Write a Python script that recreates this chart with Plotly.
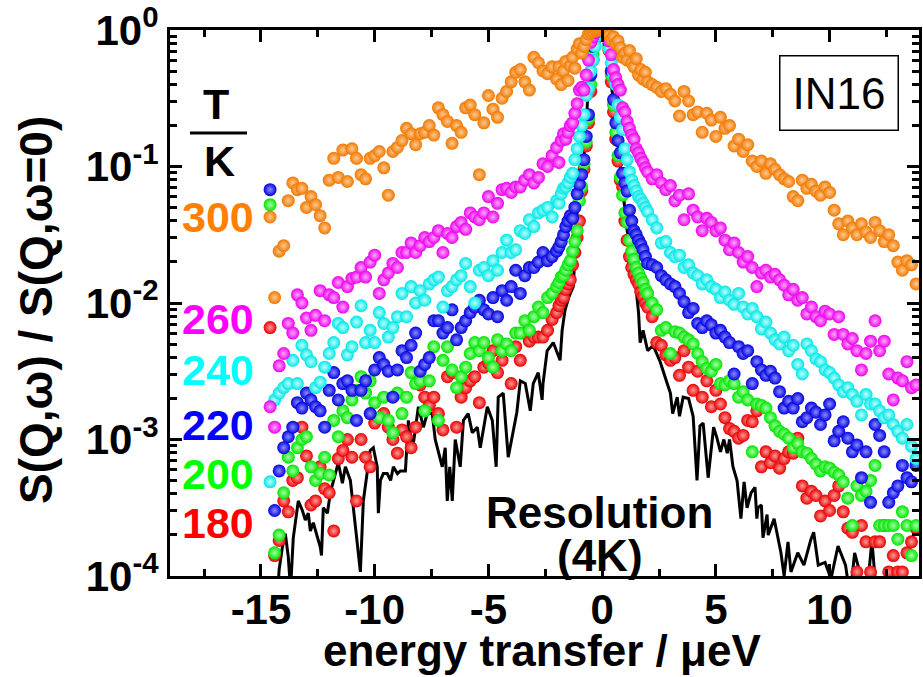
import plotly.graph_objects as go

# Energy transfer grid (µeV): 0.2 steps in the wings, 0.1 steps around the elastic line
energy = [
    -14.6, -14.4, -14.2, -14.0, -13.8, -13.6, -13.4, -13.2, -13.0, -12.8,
    -12.6, -12.4, -12.2, -12.0, -11.8, -11.6, -11.4, -11.2, -11.0, -10.8,
    -10.6, -10.4, -10.2, -10.0, -9.8, -9.6, -9.4, -9.2, -9.0, -8.8,
    -8.6, -8.4, -8.2, -8.0, -7.8, -7.6, -7.4, -7.2, -7.0, -6.8,
    -6.6, -6.4, -6.2, -6.0, -5.8, -5.6, -5.4, -5.2, -5.0, -4.8,
    -4.6, -4.4, -4.2, -4.0, -3.8, -3.6, -3.4, -3.2, -3.0, -2.8,
    -2.6, -2.4, -2.2,
    -2.0, -1.9, -1.8, -1.7, -1.6, -1.5, -1.4, -1.3, -1.2, -1.1,
    -1.0, -0.9, -0.8, -0.7, -0.6, -0.5, -0.4, -0.3, -0.2, -0.1,
    0.0, 0.1, 0.2, 0.3, 0.4, 0.5, 0.6, 0.7, 0.8, 0.9,
    1.0, 1.1, 1.2, 1.3, 1.4, 1.5, 1.6, 1.7, 1.8, 1.9,
    2.0,
    2.2, 2.4, 2.6, 2.8, 3.0, 3.2, 3.4, 3.6, 3.8, 4.0,
    4.2, 4.4, 4.6, 4.8, 5.0, 5.2, 5.4, 5.6, 5.8, 6.0,
    6.2, 6.4, 6.6, 6.8, 7.0, 7.2, 7.4, 7.6, 7.8, 8.0,
    8.2, 8.4, 8.6, 8.8, 9.0, 9.2, 9.4, 9.6, 9.8, 10.0,
    10.2, 10.4, 10.6, 10.8, 11.0, 11.2, 11.4, 11.6, 11.8, 12.0,
    12.2, 12.4, 12.6, 12.8, 13.0, 13.2, 13.4, 13.6, 13.8,
]

# log10 of S(Q,w)/S(Q,w=0) for each temperature
lg_300 = [
    -1.37, -1.96, -1.62, -1.58, -1.25, -1.12, -1.17, -1.16, -1.30, -1.22,
    -1.28, -1.36, -1.45, -1.10, -0.94, -1.08, -0.88, -1.11, -0.87, -0.94,
    -1.06, -1.09, -0.94, -0.92, -0.89, -1.01, -1.21, -0.89, -0.86, -0.81,
    -0.72, -0.76, -0.84, -0.76, -0.75, -0.70, -0.77, -0.57, -0.62, -0.67,
    -0.83, -0.70, -0.75, -0.57, -0.55, -0.62, -1.06, -0.68, -0.48, -0.58,
    -0.64, -0.50, -0.45, -0.38, -0.31, -0.29, -0.38, -0.44, -0.20, -0.24,
    -0.30, -0.32, -0.27,
    -0.36, -0.27, -0.40, -0.30, -0.23, -0.37, -0.26, -0.20, -0.28, -0.14,
    -0.10, -0.17, -0.12, -0.07, -0.03, -0.02, -0.01, 0.0, 0.0, 0.0,
    0.0, 0.0, -0.01, -0.04, -0.07, -0.05, -0.10, -0.08, -0.13, -0.20,
    -0.17, -0.22, -0.15, -0.24, -0.27, -0.21, -0.33, -0.29, -0.36, -0.31,
    -0.38,
    -0.40, -0.42, -0.45, -0.43, -0.47, -0.52, -0.63, -0.45, -0.52, -0.62,
    -0.60, -0.75, -0.61, -0.66, -0.78, -0.64, -0.72, -0.70, -0.85, -0.80,
    -0.89, -0.84, -0.96, -1.00, -0.96, -1.05, -0.98, -1.02, -1.06, -1.09,
    -1.11, -1.22, -1.25, -1.10, -1.16, -1.13, -1.18, -1.21, -1.15, -1.19,
    -1.32, -1.42, -1.50, -1.40, -1.45, -1.50, -1.42, -1.48, -1.52, -1.41,
    -1.47, -1.55, -1.50, -1.58, -1.70, -1.76, -1.69, -1.72, -1.86,
]
lg_260 = [
    -2.76, -2.91, -2.46, -2.37, -2.15, -2.22, -1.94, -2.00, -2.11, -2.20,
    -2.09, -1.91, -2.13, -1.94, -1.96, -1.85, -2.03, -1.88, -1.82, -1.81,
    -1.74, -1.81, -1.70, -1.65, -1.93, -1.83, -1.78, -1.71, -1.74, -1.63,
    -1.63, -1.56, -1.63, -1.58, -1.52, -1.55, -1.52, -1.47, -1.63, -1.49,
    -1.52, -1.44, -1.41, -1.46, -1.34, -1.37, -1.39, -1.34, -1.22, -1.37,
    -1.27, -1.17, -1.16, -1.19, -1.15, -1.15, -1.10, -1.06, -1.12, -1.08,
    -0.98, -1.00, -0.92,
    -0.86, -0.97, -0.81, -0.76, -0.80, -0.75, -0.70, -0.68, -0.61, -0.54,
    -0.44, -0.42, -0.44, -0.33, -0.22, -0.09, -0.05, -0.02, 0.0, 0.0,
    0.0, 0.0, -0.02, -0.08, -0.18, -0.29, -0.35, -0.40, -0.44, -0.57,
    -0.60, -0.67, -0.72, -0.77, -0.80, -0.87, -0.90, -0.94, -0.97, -1.01,
    -1.04,
    -1.09, -1.06, -1.12, -1.17, -1.14, -1.25, -1.21, -1.39, -1.20, -1.32,
    -1.37, -1.47, -1.38, -1.41, -1.47, -1.45, -1.54, -1.61, -1.56, -1.63,
    -1.70, -1.66, -1.74, -1.88, -1.78, -1.76, -1.81, -1.79, -1.83, -1.87,
    -1.94, -1.90, -1.98, -1.96, -2.08, -2.03, -2.10, -2.13, -2.06, -2.08,
    -2.23, -2.10, -2.23, -2.30, -2.26, -2.35, -2.49, -2.37, -2.28, -2.13,
    -2.35, -2.28, -2.52, -2.71, -2.55, -2.57, -2.43, -2.62, -2.60,
]
lg_240 = [
    -3.31, -2.71, -2.66, -2.62, -2.59, -2.42, -2.59, -2.31, -2.38, -2.43,
    -2.62, -2.58, -2.47, -2.37, -2.29, -2.15, -2.18, -2.38, -2.32, -2.14,
    -2.02, -2.29, -2.20, -2.29, -2.07, -2.15, -2.25, -2.18, -2.10, -1.93,
    -2.10, -1.88, -2.00, -1.91, -1.98, -1.86, -1.83, -1.81, -2.03, -1.91,
    -1.88, -1.83, -1.80, -1.71, -1.88, -2.00, -1.76, -1.74, -1.80, -1.69,
    -1.76, -1.63, -1.54, -1.63, -1.61, -1.47, -1.49, -1.39, -1.44, -1.34,
    -1.32, -1.30, -1.37,
    -1.25, -1.27, -1.20, -1.16, -1.15, -1.12, -1.08, -1.05, -0.95, -0.87,
    -0.78, -0.70, -0.62, -0.48, -0.43, -0.30, -0.22, -0.12, -0.04, 0.0,
    0.0, 0.0, -0.05, -0.14, -0.24, -0.32, -0.40, -0.55, -0.64, -0.73,
    -0.87, -0.95, -1.04, -1.10, -1.14, -1.18, -1.22, -1.24, -1.27, -1.30,
    -1.33,
    -1.39, -1.45, -1.56, -1.55, -1.63, -1.66, -1.65, -1.74, -1.72, -1.78,
    -1.80, -1.86, -1.83, -1.88, -1.90, -1.96, -1.92, -1.98, -2.01, -1.93,
    -2.03, -2.08, -2.04, -2.10, -2.19, -2.14, -2.22, -2.27, -2.30, -2.25,
    -2.35, -2.31, -2.45, -2.52, -2.30, -2.35, -2.41, -2.43, -2.49, -2.51,
    -2.55, -2.60, -2.65, -2.62, -2.67, -2.72, -2.82, -2.67, -2.74, -2.74,
    -2.79, -2.84, -2.82, -2.89, -2.94, -2.99, -2.89, -3.05, -3.14,
]
lg_220 = [
    -1.17, -3.52, -3.23, -3.06, -2.98, -2.91, -2.73, -2.77, -2.66, -2.71,
    -2.76, -2.79, -2.91, -2.64, -2.51, -2.71, -2.59, -2.57, -2.64, -2.86,
    -2.64, -2.57, -2.81, -2.49, -2.40, -2.45, -2.50, -2.69, -2.49, -2.35,
    -2.40, -2.31, -2.22, -2.50, -2.45, -2.40, -2.13, -2.13, -2.22, -2.18,
    -2.05, -2.27, -2.18, -2.13, -2.07, -2.03, -1.98, -2.05, -2.08, -1.96,
    -2.10, -1.91, -1.98, -1.88, -1.76, -1.93, -1.80, -1.74, -1.74, -1.70,
    -1.63, -1.69, -1.66,
    -1.62, -1.59, -1.55, -1.50, -1.44, -1.40, -1.36, -1.38, -1.30, -1.20,
    -1.13, -1.06, -0.95, -0.78, -0.62, -0.33, -0.12, -0.04, 0.0, 0.0,
    0.0, 0.0, -0.03, -0.10, -0.30, -0.51, -0.68, -0.81, -0.90, -1.05,
    -1.12, -1.18, -1.32, -1.40, -1.47, -1.50, -1.54, -1.57, -1.61, -1.66,
    -1.71,
    -1.72, -1.74, -1.80, -1.83, -1.86, -1.88, -1.93, -1.99, -2.07, -2.04,
    -2.15, -2.18, -2.13, -2.16, -2.22, -2.20, -2.25, -2.29, -2.52, -2.32,
    -2.37, -2.35, -2.59, -2.43, -2.49, -2.53, -2.50, -2.55, -2.65, -2.77,
    -2.72, -2.77, -2.70, -2.87, -2.84, -2.77, -2.80, -2.89, -2.82, -2.74,
    -3.01, -2.94, -2.87, -2.99, -3.09, -3.04, -3.28, -3.09, -3.46, -2.89,
    -2.97, -3.09, -3.46, -3.39, -3.34, -3.19, -3.28, -3.31, -3.19,
]
lg_200 = [
    -1.28, -3.83, -3.70, -3.39, -3.13, -3.23, -3.06, -3.00, -2.98, -3.20,
    -3.30, -3.25, -3.13, -3.26, -2.86, -2.98, -2.79, -2.84, -2.71, -2.64,
    -2.54, -2.66, -2.57, -2.73, -2.84, -2.69, -2.86, -2.95, -2.66, -2.81,
    -2.69, -2.51, -2.59, -2.57, -2.79, -2.57, -2.32, -2.86, -2.42, -2.32,
    -2.49, -2.62, -2.54, -2.47, -2.37, -2.29, -2.35, -2.29, -2.40, -2.47,
    -2.27, -2.35, -2.30, -2.35, -2.22, -2.22, -2.13, -2.20, -2.10, -2.03,
    -2.07, -1.96, -1.93,
    -1.88, -1.85, -1.81, -1.80, -1.76, -1.72, -1.69, -1.62, -1.55, -1.47,
    -1.25, -1.15, -0.98, -0.82, -0.65, -0.40, -0.18, -0.06, -0.01, 0.0,
    0.0, 0.0, -0.02, -0.12, -0.33, -0.55, -0.75, -0.92, -1.08, -1.21,
    -1.34, -1.41, -1.54, -1.62, -1.68, -1.74, -1.78, -1.82, -1.85, -1.90,
    -1.93,
    -2.00, -2.05, -2.20, -2.18, -2.37, -2.21, -2.22, -2.25, -2.27, -2.30,
    -2.37, -2.43, -2.48, -2.50, -2.45, -2.59, -2.60, -2.57, -2.59, -2.69,
    -2.65, -2.71, -3.09, -2.74, -2.75, -2.77, -2.84, -2.90, -2.94, -2.96,
    -2.99, -3.06, -3.03, -3.09, -3.10, -3.14, -3.18, -3.23, -3.20, -3.21,
    -3.24, -3.26, -3.31, -3.43, -3.63, -3.34, -3.41, -3.38, -3.30, -3.19,
    -3.63, -3.63, -3.63, -3.63, -3.73, -3.53, -3.63, -3.85, -3.63,
]
lg_180 = [
    -2.18, -3.85, -3.74, -3.45, -3.53, -3.30, -3.28, -2.91, -3.12, -3.48,
    -3.45, -3.20, -3.36, -3.39, -3.67, -3.14, -3.08, -3.00, -3.13, -3.45,
    -3.00, -3.13, -3.20, -2.88, -2.84, -2.81, -2.91, -3.00, -3.10, -2.93,
    -2.98, -3.06, -2.91, -2.60, -2.69, -2.75, -2.69, -2.81, -2.93, -2.54,
    -2.51, -2.91, -2.69, -2.62, -2.57, -2.54, -2.73, -2.47, -2.44, -2.35,
    -2.51, -2.42, -2.32, -2.59, -2.32, -2.42, -2.22, -2.28, -2.25, -2.25,
    -2.25, -2.20, -2.12,
    -2.07, -2.02, -1.98, -1.96, -1.90, -1.86, -1.83, -1.72, -1.63, -1.52,
    -1.40, -1.18, -1.02, -0.85, -0.68, -0.45, -0.22, -0.07, -0.01, 0.0,
    0.0, 0.0, -0.03, -0.15, -0.38, -0.60, -0.80, -0.96, -1.10, -1.15,
    -1.40, -1.54, -1.66, -1.74, -1.79, -1.83, -1.86, -1.92, -1.95, -2.00,
    -2.03,
    -2.10, -2.29, -2.31, -2.38, -2.42, -2.40, -2.53, -2.35, -2.47, -2.64,
    -2.50, -2.69, -2.57, -2.76, -2.64, -2.74, -2.84, -2.92, -2.94, -2.99,
    -2.97, -2.86, -2.87, -2.79, -3.20, -3.09, -3.17, -3.12, -3.21, -3.14,
    -3.09, -3.10, -2.99, -3.34, -3.43, -3.38, -3.41, -3.56, -3.45, -3.52,
    -3.41, -3.34, -3.53, -3.65, -3.68, -3.97, -3.63, -3.75, -3.97, -3.75,
    -3.75, -3.63, -3.97, -3.85, -3.97, -3.97, -3.83, -3.75, -3.65,
]

# Instrumental resolution measured at 4 K (line)
res_energy = [
    -14.3, -14.2, -14.06, -13.93, -13.8, -13.7, -13.58, -13.45, -13.36, -13.18,
    -13.05, -12.92, -12.83, -12.7, -12.6, -12.52, -12.39, -12.34, -12.26, -12.08,
    -11.95, -11.73, -11.6, -11.42, -11.29, -11.07, -10.94, -10.85, -10.63, -10.5,
    -10.33, -10.2, -10.06, -9.89, -9.84, -9.75, -9.62, -9.45, -9.3, -9.18,
    -9.0, -8.87, -8.65, -8.52, -8.4, -8.3, -8.08, -7.86, -7.69, -7.47,
    -7.34, -7.2, -7.03, -6.9, -6.81, -6.7, -6.59, -6.46, -6.24, -6.1,
    -5.89, -5.71, -5.49, -5.36, -5.2, -5.05, -4.83, -4.66, -4.57, -4.35,
    -4.13, -3.91, -3.75, -3.6, -3.38, -3.16, -3.03, -2.81, -2.64, -2.6,
    -2.42, -2.15, -1.85, -1.76, -1.63, -1.45, -1.27, -1.1, -0.97, -0.83,
    -0.66, -0.53, -0.4, -0.2, 0.0, 0.22, 0.44, 0.66, 0.88, 1.1,
    1.32, 1.45, 1.6, 1.67, 1.8, 2.0, 2.24, 2.55, 2.86, 3.0,
    3.1, 3.3, 3.4, 3.56, 3.8, 4.0, 4.17, 4.3, 4.44, 4.66,
    4.9, 5.05, 5.2, 5.35, 5.5, 5.6, 5.75, 5.93, 6.1, 6.24,
    6.37, 6.55, 6.72, 6.8, 6.85, 7.0, 7.07, 7.25, 7.3, 7.56,
    7.86, 8.0, 8.17, 8.3, 8.6, 8.87, 9.18, 9.3, 9.5, 9.8,
    10.06, 10.37, 10.7, 10.9, 11.1, 11.4, 11.6, 11.86, 12.0, 12.2, 12.5,
]
lg_res = [
    -4.20, -3.95, -3.79, -3.69, -3.86, -4.10, -3.72, -3.55, -3.45, -3.52,
    -3.59, -3.54, -3.67, -3.61, -3.67, -3.70, -3.79, -3.85, -3.50, -3.54,
    -3.39, -3.25, -3.17, -3.32, -3.20, -3.30, -3.50, -3.67, -3.97, -3.45,
    -3.23, -3.08, -3.06, -3.20, -3.54, -3.30, -3.25, -3.25, -3.30, -3.20,
    -3.25, -3.23, -3.23, -2.86, -3.00, -3.03, -2.76, -2.91, -2.81, -2.81,
    -3.00, -3.10, -3.20, -3.06, -3.45, -3.20, -3.45, -3.00, -3.20, -2.86,
    -2.81, -2.95, -2.91, -3.06, -2.90, -2.76, -2.86, -3.20, -2.69, -2.66,
    -3.13, -2.93, -2.80, -2.57, -2.59, -2.79, -2.59, -2.51, -2.71, -2.59,
    -2.35, -2.29, -2.42, -2.20, -2.05, -1.95, -1.88, -1.34, -1.12, -1.01,
    -0.57, -0.09, -0.02, 0.0, 0.0, -0.11, -0.45, -0.77, -1.15, -1.47,
    -1.66, -1.83, -2.07, -2.29, -2.20, -2.35, -2.31, -2.43, -2.59, -2.66,
    -2.81, -2.69, -2.83, -2.69, -2.70, -2.83, -3.30, -2.90, -2.88, -3.28,
    -2.91, -2.99, -3.09, -3.00, -3.10, -3.00, -3.20, -3.30, -3.58, -3.31,
    -3.50, -3.39, -3.35, -3.58, -3.50, -3.48, -3.72, -3.55, -3.70, -3.58,
    -3.83, -4.00, -3.75, -3.97, -3.83, -3.92, -3.73, -3.68, -3.92, -3.90,
    -4.02, -3.78, -3.92, -4.15, -3.83, -4.02, -4.20, -3.74, -4.02, -4.30, -4.20,
]

temperatures = ["180", "200", "220", "240", "260", "300"]
colors = ["#FF0000", "#00FF00", "#0000FF", "#00FFFF", "#FF00FF", "#FF8000"]
# sphere shading: slightly darker rim, lighter centre
rims = ["#E80000", "#00E400", "#0000E0", "#00E6E6", "#EC00EC", "#F07800"]
highlights = ["#FF9A9A", "#A8FFA8", "#8C8CFF", "#C0FFFF", "#FFA8FF", "#FFC890"]
series = [lg_180, lg_200, lg_220, lg_240, lg_260, lg_300]

for s in series:
    assert len(s) == len(energy)
assert len(res_energy) == len(lg_res)

FONT = "Liberation Sans, Arial, Helvetica, sans-serif"

fig = go.Figure()

fig.add_trace(go.Scatter(
    x=res_energy, y=[10 ** v for v in lg_res], mode="lines",
    line=dict(color="black", width=3), showlegend=False, hoverinfo="skip",
))

for t, rc, h, s in zip(temperatures, rims, highlights, series):
    fig.add_trace(go.Scatter(
        x=energy, y=[10 ** v for v in s], mode="markers", name=t + " K",
        marker=dict(size=13, color=rc, line=dict(width=0),
                    gradient=dict(type="radial", color=h)),
        showlegend=False,
    ))

axis_common = dict(
    showline=True, linewidth=3, linecolor="black", mirror="ticks",
    ticks="inside", ticklen=12, tickwidth=2.5, tickcolor="black",
    showgrid=False, zeroline=False,
    tickfont=dict(family=FONT, size=42, color="black", weight="bold"),
)

y_minor = [m * 10 ** e for e in range(-4, 0) for m in range(2, 10)]

fig.update_xaxes(
    range=[-19, 13.93],
    tickmode="array", tickvals=[-15, -10, -5, 0, 5, 10],
    ticktext=["-15", "-10", "-5", "0", "5", "10"],
    ticklabelstandoff=-5,
    minor=dict(tickmode="array", tickvals=[-17.5, -12.5, -7.5, -2.5, 2.5, 7.5, 12.5],
               ticks="inside", ticklen=7, tickwidth=2.5, tickcolor="black", showgrid=False),
    **axis_common,
)
fig.update_yaxes(
    type="log", range=[-4, 0],
    tickmode="array", tickvals=[1e-4, 1e-3, 1e-2, 1e-1, 1],
    ticktext=["10<sup>-4</sup>", "10<sup>-3</sup>", "10<sup>-2</sup>",
              "10<sup>-1</sup>", "10<sup>0</sup>"],
    minor=dict(tickmode="array", tickvals=y_minor,
               ticks="inside", ticklen=7, tickwidth=2.5, tickcolor="black", showgrid=False),
    **axis_common,
)

L, R, T, B = 170, 4, 30, 101
W, H = 923, 677
pw, ph = W - L - R, H - T - B


def px(x):
    return (x - L) / pw


def py(y):
    return (H - B - y) / ph


def bold(size, color="black"):
    return dict(family=FONT, size=size, color=color, weight="bold")


annotations = [
    dict(text="energy transfer / μeV", x=px(542), y=py(650), font=bold(44)),
    dict(text="S(Q,ω) / S(Q,ω=0)", x=px(36), y=py(310), textangle=-90, font=bold(46)),
    dict(text="T", x=px(216), y=py(104), font=bold(43)),
    dict(text="K", x=px(219), y=py(161), font=bold(43)),
    dict(text="Resolution", x=px(599), y=py(512), font=bold(44)),
    dict(text="(4K)", x=px(600), y=py(555), font=bold(44)),
    dict(text="IN16", x=px(838.5), y=py(92.5), width=117, height=73,
         bordercolor="black", borderwidth=1.5, borderpad=0,
         font=dict(family=FONT, size=44, color="black")),
]
label_y = {"300": 217, "260": 319, "240": 370, "220": 425, "200": 474, "180": 523}
for t, c in zip(temperatures, colors):
    annotations.append(dict(text=t, x=px(218), y=py(label_y[t]), font=bold(43, c)))

for a in annotations:
    a.update(xref="paper", yref="paper", xanchor="center", yanchor="middle",
             showarrow=False)

fig.update_layout(
    width=W, height=H,
    margin=dict(l=L, r=R, t=T, b=B, autoexpand=False),
    paper_bgcolor="white", plot_bgcolor="white",
    annotations=annotations,
    shapes=[dict(type="line", xref="paper", yref="paper",
                 x0=px(190), x1=px(247), y0=py(133), y1=py(133),
                 line=dict(color="black", width=3))],
)

fig.write_html("out.html")
